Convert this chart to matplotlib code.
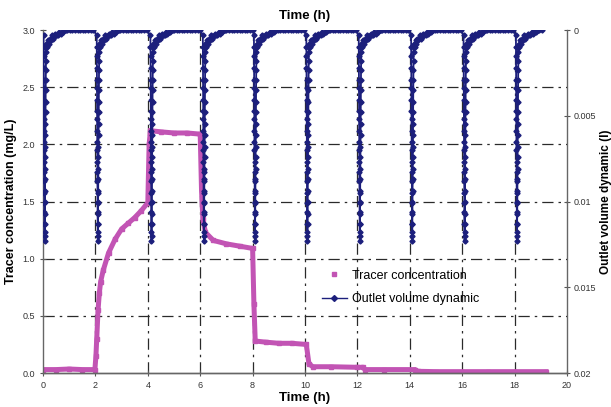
import numpy as np
import matplotlib.pyplot as plt
from matplotlib.lines import Line2D

plt.rcParams['font.family'] = ['Liberation Sans', 'DejaVu Sans']

# tracer concentration (mg/L)
tracer_t = [0.0, 0.5, 1.0, 1.5, 1.98, 2.02, 2.05, 2.1, 2.15, 2.2, 2.3, 2.5, 2.75, 3.0, 3.25, 3.5,
            3.75, 4.0, 4.05, 4.1, 4.5, 5.0, 5.5, 6.0, 6.05, 6.1, 6.2, 6.5, 7.0, 7.5, 8.0, 8.05,
            8.1, 8.5, 9.0, 9.5, 10.05, 10.15, 10.3, 11.0, 12.0, 12.2, 12.3, 13.0, 14.2, 14.3,
            15.0, 16.0, 17.0, 18.0, 19.2]
tracer_c = [0.03, 0.03, 0.035, 0.03, 0.03, 0.15, 0.3, 0.55, 0.7, 0.8, 0.9, 1.05, 1.17, 1.26, 1.31, 1.36,
            1.42, 1.49, 2.0, 2.12, 2.11, 2.10, 2.10, 2.09, 1.6, 1.35, 1.23, 1.16, 1.13, 1.11, 1.09, 0.6,
            0.28, 0.27, 0.26, 0.26, 0.25, 0.08, 0.055, 0.055, 0.05, 0.05, 0.03, 0.03, 0.03, 0.015,
            0.012, 0.012, 0.012, 0.012, 0.012]

# outlet volume (l): one filling cycle, offsets in hours from cycle start
cycle_off = [0.0, 0.002, 0.004, 0.006, 0.008, 0.010, 0.012, 0.014, 0.016, 0.018, 0.020, 0.022, 0.024,
             0.026, 0.028, 0.030, 0.032, 0.034, 0.036, 0.038, 0.040,
             0.043, 0.046, 0.049, 0.052, 0.055, 0.058, 0.061, 0.064, 0.067, 0.070, 0.073, 0.076,
             0.079, 0.082, 0.085, 0.088, 0.091, 0.094, 0.097, 0.100,
             0.13, 0.17, 0.2, 0.24, 0.28, 0.32, 0.36, 0.4, 0.45, 0.5, 0.55, 0.6, 0.65, 0.7, 0.75,
             0.8, 0.85, 0.9, 1.0, 1.1, 1.2, 1.3, 1.4, 1.5, 1.6, 1.7, 1.8, 1.9]
cycle_vol = [0.0003, 0.0010, 0.0015, 0.0022, 0.0029, 0.0034, 0.0041, 0.0047, 0.0052, 0.0059, 0.0065,
             0.0070, 0.0077, 0.0083, 0.0088, 0.0095, 0.0101, 0.0106, 0.0113, 0.0118, 0.0123,
             0.0120, 0.0113, 0.0107, 0.0100, 0.0094, 0.0087, 0.0081, 0.0074, 0.0068, 0.0061,
             0.0055, 0.0048, 0.0042, 0.0035, 0.0029, 0.0023, 0.0018, 0.0013, 0.0010, 0.0008,
             0.0010, 0.0006, 0.0008, 0.0005, 0.0006, 0.0003, 0.0005, 0.0004, 0.0002, 0.0003,
             0.0003, 0.0001, 0.0002, 0.0001, 0.0001, 0.0, 0.0, 0.0, 0.0, 0.0, 0.0, 0.0, 0.0,
             0.0, 0.0, 0.0, 0.0, 0.0]
cycle_start = [0.02, 2.05, 4.1, 6.1, 8.05, 10.05, 12.05, 14.05, 16.05, 18.05]
vol_end = 19.1

vt, vv = [], []
for s in cycle_start:
    for o, v in zip(cycle_off, cycle_vol):
        if s + o <= vol_end:
            vt.append(s + o)
            vv.append(v)

pink = '#c254b4'
navy = '#1c1f7c'

fig = plt.figure(figsize=(6.11, 4.07), dpi=100)
ax = fig.add_axes([0.0704, 0.0835, 0.8576, 0.8425])
ax2 = ax.twinx()

ax.plot(tracer_t, tracer_c, color=pink, lw=3.6, marker='s', ms=2.5, solid_joinstyle='miter')
ax2.plot(vt, vv, color=navy, lw=1.3, marker='D', ms=2.6, mec=navy)

ax.set_xlim(0, 20)
ax.set_ylim(0, 3.0)
ax2.set_ylim(0.02, 0)
ax.set_xticks(range(0, 21, 2))
ax.set_yticks([0, 0.5, 1.0, 1.5, 2.0, 2.5, 3.0])
ax.set_yticklabels(['0.0', '0.5', '1.0', '1.5', '2.0', '2.5', '3.0'])
ax2.set_yticks([0, 0.005, 0.01, 0.015, 0.02])
ax2.set_yticklabels(['0', '0.005', '0.01', '0.015', '0.02'])

grid_style = dict(color='#2a2a2a', lw=0.9, ls=(0, (9, 4, 2, 4)), zorder=0)
for x in range(2, 20, 2):
    ax.axvline(x, **grid_style)
for y in [0.5, 1.0, 1.5, 2.0, 2.5]:
    ax.axhline(y, **grid_style)

for a in (ax, ax2):
    a.spines['top'].set_visible(False)
    for sp in ('left', 'bottom', 'right'):
        a.spines[sp].set_color('#666666')
        a.spines[sp].set_linewidth(1.0)
    a.tick_params(direction='inout', length=5, width=0.8, color='#555555',
                  labelsize=6.5, labelcolor='#333333')
ax.spines['right'].set_visible(False)
ax2.spines['left'].set_visible(False)
ax.tick_params(axis='x', pad=3)
ax2.tick_params(axis='y', pad=2)

ax.set_xlabel('Time (h)', fontsize=9.5, fontweight='bold', labelpad=2)
ax.set_title('Time (h)', fontsize=9.5, fontweight='bold', pad=8)
ax.set_ylabel('Tracer concentration (mg/L)', fontsize=9, fontweight='bold')
ax2.set_ylabel('Outlet volume dynamic (l)', fontsize=8.5, fontweight='bold')
ax.yaxis.set_label_coords(-0.05, 0.5)
ax2.yaxis.set_label_coords(1.063, 0.5)

handles = [Line2D([], [], color=pink, marker='s', ms=3.5, ls='none'),
           Line2D([], [], color=navy, marker='D', ms=3, lw=1)]
ax2.legend(handles, ['Tracer concentration', 'Outlet volume dynamic'],
           loc='center left', bbox_to_anchor=(0.51, 0.25), frameon=False,
           fontsize=9, handlelength=2, labelspacing=0.9, handletextpad=0.4)

fig.savefig('out.png', dpi=100)
